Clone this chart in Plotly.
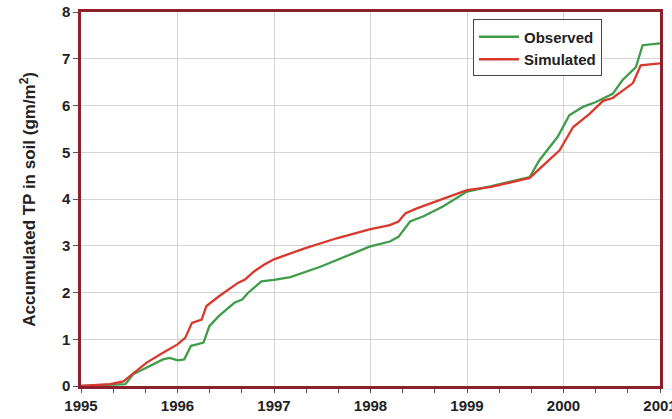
import plotly.graph_objects as go

# Accumulated total phosphorus in soil, 1995-2001
obs_year = [1995.0, 1995.3, 1995.46, 1995.54, 1995.68, 1995.85, 1995.92, 1996.0, 1996.07,
            1996.14, 1996.2, 1996.27, 1996.33, 1996.43, 1996.59, 1996.67, 1996.73, 1996.87,
            1997.0, 1997.17, 1997.48, 1997.72, 1997.99, 1998.2, 1998.29, 1998.41, 1998.55,
            1998.75, 1999.0, 1999.22, 1999.51, 1999.65, 1999.75, 1999.94, 2000.06, 2000.2,
            2000.33, 2000.51, 2000.61, 2000.75, 2000.82, 2001.0]
obs_tp = [0.0, 0.02, 0.04, 0.25, 0.39, 0.57, 0.60, 0.55, 0.57,
          0.86, 0.89, 0.93, 1.28, 1.50, 1.78, 1.85, 1.99, 2.24,
          2.27, 2.33, 2.55, 2.76, 2.98, 3.09, 3.19, 3.52, 3.63,
          3.84, 4.16, 4.26, 4.40, 4.47, 4.83, 5.33, 5.79, 5.97,
          6.07, 6.25, 6.54, 6.82, 7.29, 7.33]

sim_year = [1995.0, 1995.3, 1995.44, 1995.54, 1995.68, 1995.85, 1996.0, 1996.08, 1996.15,
            1996.25, 1996.3, 1996.43, 1996.63, 1996.7, 1996.8, 1996.9, 1997.0, 1997.31,
            1997.65, 1997.99, 1998.2, 1998.29, 1998.36, 1998.48, 1998.75, 1999.0, 1999.25,
            1999.65, 1999.79, 1999.96, 2000.1, 2000.27, 2000.41, 2000.51, 2000.72, 2000.8,
            2001.0]
sim_tp = [0.0, 0.04, 0.1, 0.26, 0.5, 0.71, 0.89, 1.03, 1.35,
          1.42, 1.71, 1.92, 2.21, 2.28, 2.46, 2.6, 2.71, 2.94,
          3.16, 3.35, 3.44, 3.52, 3.69, 3.80, 4.0, 4.19, 4.26,
          4.45, 4.72, 5.04, 5.54, 5.82, 6.10, 6.16, 6.48, 6.86,
          6.90]

year_ticks = [1995, 1996, 1997, 1998, 1999, 2000, 2001]
tp_ticks = [0, 1, 2, 3, 4, 5, 6, 7, 8]

GREEN = "#3f9c48"
RED = "#d8392c"
FRAME = "#8e1f2c"
TEXT = "#222222"
FONT = "Liberation Sans, Arial, sans-serif"

fig = go.Figure()
fig.add_trace(go.Scatter(x=obs_year, y=obs_tp, mode="lines", name="Observed",
                         line=dict(color=GREEN, width=2.3)))
fig.add_trace(go.Scatter(x=sim_year, y=sim_tp, mode="lines", name="Simulated",
                         line=dict(color=RED, width=2.3)))

fig.update_layout(
    width=672, height=419,
    margin=dict(l=81, r=12, t=12, b=33),
    paper_bgcolor="white", plot_bgcolor="white",
    font=dict(family=FONT, size=15, color=TEXT),
    showlegend=True,
    legend=dict(x=0.677, y=0.98, xanchor="left", yanchor="top",
                bgcolor="white", bordercolor="#444444", borderwidth=1,
                font=dict(family=FONT, size=15, color=TEXT, weight="bold"),
                itemwidth=40, tracegroupgap=0),
    annotations=[dict(
        text="Accumulated TP in soil (gm/m<sup>2</sup>)",
        xref="paper", yref="paper", x=-0.092, y=0.5,
        xanchor="center", yanchor="middle", textangle=-90, showarrow=False,
        font=dict(family=FONT, size=17, color=TEXT, weight="bold"),
    )],
)

fig.update_xaxes(
    range=[1995, 2001], tickvals=year_ticks, ticktext=[str(y) for y in year_ticks],
    tickfont=dict(family=FONT, size=15, weight="bold"),
    automargin=False, ticklabeloverflow="allow",
    showgrid=True, gridcolor="#d4d4d4", gridwidth=1,
    showline=True, linecolor=FRAME, linewidth=2.5, mirror=True,
    ticks="outside", ticklen=4, tickcolor="#555555",
    minor=dict(dtick=1/3, tick0=1995, ticks="outside", ticklen=4, tickcolor="#555555", showgrid=False),
    zeroline=False,
)
fig.update_yaxes(
    range=[0, 8], tickvals=tp_ticks,
    tickfont=dict(family=FONT, size=15, weight="bold"),
    automargin=False, ticklabeloverflow="allow",
    showgrid=True, gridcolor="#d4d4d4", gridwidth=1,
    showline=True, linecolor=FRAME, linewidth=2.5, mirror=True,
    ticks="outside", ticklen=5, tickcolor="#555555",
    zeroline=False,
)

fig.write_html("out.html")
